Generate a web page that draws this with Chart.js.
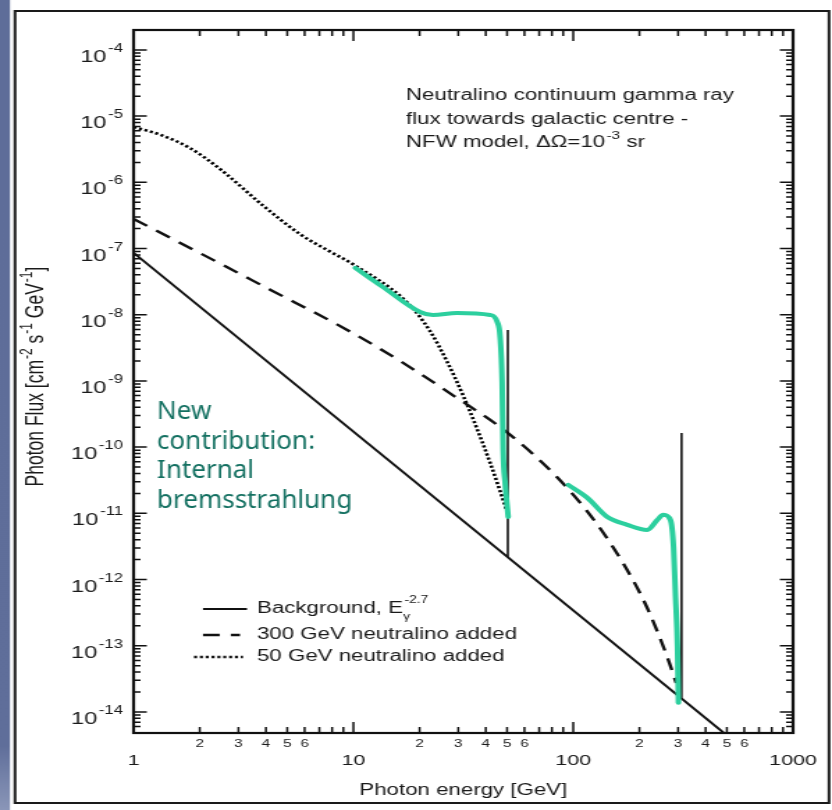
<!DOCTYPE html>
<html>
<head>
<meta charset="utf-8">
<script src="https://cdn.jsdelivr.net/npm/chart.js@4.4.1/dist/chart.umd.min.js"></script>
<style>
  html, body { margin: 0; padding: 0; background: #fff; overflow: hidden; }
  /* the original figure is stretched sideways on the slide, so we draw narrow and stretch */
  #wrap { width: 598px; height: 810px; transform: scaleX(1.3913); transform-origin: 0 0; }
</style>
</head>
<body>
<div id="wrap"><canvas id="chart"></canvas></div>
<script>
const S = 832 / 598; // horizontal stretch of the page

// tick labels
const xSmallLabels = [2, 3, 4, 5, 6];          // mantissas labelled in small type on the energy axis
const yDecades = [-4, -5, -6, -7, -8, -9, -10, -11, -12, -13, -14]; // 10^n labels on the flux axis

// background power law, E^-2.7
const bgEnergy = [1, 1000];
const bgFlux = [8.6e-8, 6.8e-16];

// gamma lines (spikes)
const line50Energy = [50.4, 50.4];
const line50Flux = [2.2e-12, 5.9e-9];
const line300Energy = [311, 311];
const line300Flux = [1.64e-14, 1.64e-10];

// 300 GeV neutralino added (dashed)
const dashEnergy = [1, 2.01, 4.18, 9.37, 16.3, 29.6, 50.0, 84.5, 128.5, 187.5, 223.9, 267.6, 294];
const dashFlux = [2.8e-7, 8.49e-8, 2.39e-8, 5.89e-9, 2.0e-9, 5.53e-10, 1.67e-10, 3.5e-11, 6.83e-12, 9.66e-13, 2.96e-13, 6.78e-14, 2.74e-14];

// 50 GeV neutralino added (dotted)
const dotEnergy = [1, 1.322, 1.811, 2.479, 3.89, 5.73, 7.84, 9.98, 17.57, 22.35, 26.71, 31.57, 36.56, 41.88, 48.0, 50.05];
const dotFlux = [6.87e-6, 5.24e-6, 3.27e-6, 1.58e-6, 4.42e-7, 1.64e-7, 8.97e-8, 5.77e-8, 1.53e-8, 5.61e-9, 1.94e-9, 6.01e-10, 1.87e-10, 5.77e-11, 1.59e-11, 1.05e-11];

// hand drawn internal bremsstrahlung curves
const ib50Energy = [10.2, 13.6, 20.1, 23.0, 29.6, 41.9, 45.1, 46.5, 47.5, 48.0, 49.0, 50.6];
const ib50Flux = [5.1e-8, 2.63e-8, 1.1e-8, 9.9e-9, 1.06e-8, 9.9e-9, 7.8e-9, 4.6e-9, 9.3e-10, 9.1e-11, 2.9e-11, 8.8e-12];
const ib300Energy = [94.9, 116, 143, 176, 217, 241, 257, 277, 286, 292, 298, 301];
const ib300Flux = [2.69e-11, 1.71e-11, 8.8e-12, 6.7e-12, 5.6e-12, 7.9e-12, 9.5e-12, 7.9e-12, 3.1e-12, 5.5e-13, 9.6e-14, 1.37e-14];

const FONT = '"Liberation Sans", Arial, sans-serif';
const INK = '#1a1a1a';
const GREEN = '#2ccf9e';

const toPoints = (xs, ys) => xs.map((x, i) => ({ x: x, y: ys[i] }));

// returns the integer mantissa of a tick value, or null if it's not a nice tick
function mantissa(v) {
    const e = Math.floor(Math.log10(v) + 1e-9);
    const m = v / Math.pow(10, e);
    const r = Math.round(m);
    return Math.abs(m - r) < 1e-6 ? r : null;
}

// white slide panel with the blue strip on the left and a black frame
const panelBackground = {
    id: 'panelBackground',
    beforeDraw(chart) {
        const { ctx, width, height } = chart;
        ctx.save();
        ctx.fillStyle = '#fff';
        ctx.fillRect(0, 0, width, height);
        const g = ctx.createLinearGradient(0, 0, 0, height);
        g.addColorStop(0, '#5e6d99');
        g.addColorStop(0.92, '#5f6e9a');
        g.addColorStop(1, '#8a96b8');
        ctx.fillStyle = g;
        ctx.fillRect(0, 0, 10 / S, height);
        ctx.strokeStyle = INK;
        ctx.lineWidth = 2;
        ctx.strokeRect(15 / S, 11, 814 / S, 792);
        ctx.restore();
    }
};

// inward ticks on all four sides, box round the plot, flux labels and flux title
const frameTicks = {
    id: 'frameTicks',
    afterDraw(chart) {
        const { ctx, chartArea: a } = chart;
        const xs = chart.scales.x, ys = chart.scales.y;
        ctx.save();
        ctx.strokeStyle = '#111';
        ctx.lineWidth = 1.5;
        ctx.beginPath();
        xs.ticks.forEach(t => {
            const m = mantissa(t.value);
            if (m === null) return;
            const px = xs.getPixelForValue(t.value);
            const len = m === 1 ? 11 : 6;
            ctx.moveTo(px, a.bottom); ctx.lineTo(px, a.bottom - len);
            ctx.moveTo(px, a.top); ctx.lineTo(px, a.top + len);
        });
        ys.ticks.forEach(t => {
            const m = mantissa(t.value);
            if (m === null) return;
            const py = ys.getPixelForValue(t.value);
            const len = m === 1 ? 9.5 : 5;
            ctx.moveTo(a.left, py); ctx.lineTo(a.left + len, py);
            ctx.moveTo(a.right, py); ctx.lineTo(a.right - len, py);
        });
        ctx.stroke();
        ctx.lineWidth = 2.2;
        ctx.strokeRect(a.left, a.top, a.right - a.left, a.bottom - a.top);

        // 10^n labels with a real raised exponent
        ctx.fillStyle = INK;
        ctx.textAlign = 'right';
        ctx.textBaseline = 'alphabetic';
        const right = 123 / S;
        yDecades.forEach(d => {
            const py = ys.getPixelForValue(Math.pow(10, d));
            const exp = String(d);
            ctx.font = '12px ' + FONT;
            ctx.fillText(exp, right, py + 2);
            const ew = ctx.measureText(exp).width;
            ctx.font = '17px ' + FONT;
            ctx.fillText('10', right - ew - 1.2, py + 12);
        });

        // rotated flux title with superscripts
        const parts = [['Photon Flux [cm', false], ['-2', true], [' s', false], ['-1', true], [' GeV', false], ['-1', true], [']', false]];
        const bigF = '17.5px ' + FONT, smallF = '12px ' + FONT;
        let total = 0;
        parts.forEach(p => { ctx.font = p[1] ? smallF : bigF; total += ctx.measureText(p[0]).width + (p[1] ? 1 : 0); });
        ctx.translate(43 / S, (a.top + a.bottom) / 2 - 5);
        ctx.rotate(-Math.PI / 2);
        ctx.textAlign = 'left';
        let tx = -total / 2;
        parts.forEach(p => {
            ctx.font = p[1] ? smallF : bigF;
            ctx.fillText(p[0], tx + (p[1] ? 1 : 0), p[1] ? -8 : 0);
            tx += ctx.measureText(p[0]).width + (p[1] ? 1 : 0);
        });
        ctx.restore();
    }
};

// legend, caption and the green note
const annotations = {
    id: 'annotations',
    afterDraw(chart) {
        const ctx = chart.ctx;
        ctx.save();
        ctx.fillStyle = INK;
        ctx.textBaseline = 'alphabetic';

        // caption top right
        ctx.font = '16px ' + FONT;
        const cx = 406 / S;
        ctx.fillText('Neutralino continuum gamma ray', cx, 100);
        ctx.fillText('flux towards galactic centre -', cx, 124);
        const l3 = 'NFW model, ΔΩ=10';
        ctx.fillText(l3, cx, 147);
        let w = ctx.measureText(l3).width;
        ctx.font = '11px ' + FONT;
        ctx.fillText('-3', cx + w + 1, 139);
        w += ctx.measureText('-3').width + 1;
        ctx.font = '16px ' + FONT;
        ctx.fillText(' sr', cx + w, 147);

        // legend
        const rows = chart.data.datasets.filter(d => d.inLegend);
        const rowY = [609, 635, 657];
        rows.forEach((d, i) => {
            const y = rowY[i];
            ctx.strokeStyle = '#111';
            ctx.lineWidth = d.borderWidth;
            ctx.setLineDash(d.borderDash || []);
            ctx.beginPath();
            ctx.moveTo(d.legendFrom / S, y);
            ctx.lineTo(d.legendTo / S, y);
            ctx.stroke();
            ctx.setLineDash([]);
            ctx.font = '16px ' + FONT;
            ctx.textBaseline = 'middle';
            const tx = 257 / S;
            ctx.fillText(d.label, tx, y);
            if (d.labelSub) {
                const lw = ctx.measureText(d.label).width;
                ctx.font = '10px ' + FONT;
                ctx.fillText(d.labelSub, tx + lw, y + 8);
                ctx.fillText(d.labelSup, tx + lw + 1, y - 9);
            }
        });

        // green handwritten note, not stretched
        ctx.scale(1 / S, 1);
        ctx.fillStyle = '#137061';
        ctx.font = '26px "Noto Sans", sans-serif';
        ctx.textBaseline = 'alphabetic';
        ['New', 'contribution:', 'Internal', 'bremsstrahlung'].forEach((t, i) => {
            ctx.fillText(t, 157, 419 + i * 29.5);
        });
        ctx.restore();
    }
};

Chart.defaults.font.family = FONT;
Chart.defaults.color = INK;

new Chart(document.getElementById('chart'), {
    type: 'scatter',
    data: {
        datasets: [
            {
                label: 'Background, E', labelSub: 'γ', labelSup: '-2.7', inLegend: true,
                legendFrom: 203, legendTo: 247,
                data: toPoints(bgEnergy, bgFlux),
                showLine: true, borderColor: '#111', borderWidth: 2, order: 2
            },
            {
                label: '300 GeV neutralino added', inLegend: true,
                legendFrom: 203, legendTo: 240,
                data: toPoints(dashEnergy, dashFlux),
                showLine: true, borderColor: '#111', borderWidth: 2.4,
                borderDash: [12, 8], cubicInterpolationMode: 'monotone', order: 2
            },
            {
                label: '50 GeV neutralino added', inLegend: true,
                legendFrom: 194, legendTo: 243,
                data: toPoints(dotEnergy, dotFlux),
                showLine: true, borderColor: '#000', borderWidth: 2.6,
                borderDash: [2.2, 2], cubicInterpolationMode: 'monotone', order: 2
            },
            {
                label: 'line 50',
                data: toPoints(line50Energy, line50Flux),
                showLine: true, borderColor: '#111', borderWidth: 1.6, order: 2
            },
            {
                label: 'line 300',
                data: toPoints(line300Energy, line300Flux),
                showLine: true, borderColor: '#111', borderWidth: 1.6, order: 2
            },
            {
                label: 'IB 50',
                data: toPoints(ib50Energy, ib50Flux),
                showLine: true, borderColor: GREEN, borderWidth: 4, borderCapStyle: 'round',
                cubicInterpolationMode: 'monotone', order: 0
            },
            {
                label: 'IB 300',
                data: toPoints(ib300Energy, ib300Flux),
                showLine: true, borderColor: GREEN, borderWidth: 4, borderCapStyle: 'round',
                cubicInterpolationMode: 'monotone', order: 0
            }
        ]
    },
    options: {
        responsive: true,
        maintainAspectRatio: false,
        animation: false,
        layout: { padding: { top: 30, right: 28, left: 0, bottom: 0 } },
        elements: { point: { radius: 0, hoverRadius: 0 } },
        plugins: { legend: { display: false }, tooltip: { enabled: false } },
        scales: {
            x: {
                type: 'logarithmic',
                min: 1, max: 1000,
                grid: { display: false, drawTicks: false },
                border: { display: false },
                ticks: {
                    autoSkip: false,
                    maxRotation: 0,
                    padding: 4,
                    color: INK,
                    font: (c) => (c.tick && mantissa(c.tick.value) === 1) ? { size: 15.5, lineHeight: 1 } : { size: 11 },
                    callback: function (value) {
                        const m = mantissa(value);
                        if (m === 1) return ['', String(Math.round(value))];
                        if (xSmallLabels.includes(m)) return String(m);
                        return '';
                    }
                },
                title: {
                    display: true,
                    text: 'Photon energy [GeV]',
                    font: { size: 16 },
                    padding: { top: 0, bottom: 10 }
                },
                afterFit(s) { s.height = 77; }
            },
            y: {
                type: 'logarithmic',
                min: 4.8e-15, max: 2.0e-4,
                grid: { display: false, drawTicks: false },
                border: { display: false },
                ticks: {
                    autoSkip: false,
                    callback: () => '' // drawn by frameTicks with raised exponents
                },
                afterFit(s) { s.width = 96; }
            }
        }
    },
    plugins: [panelBackground, frameTicks, annotations]
});
</script>
</body>
</html>
